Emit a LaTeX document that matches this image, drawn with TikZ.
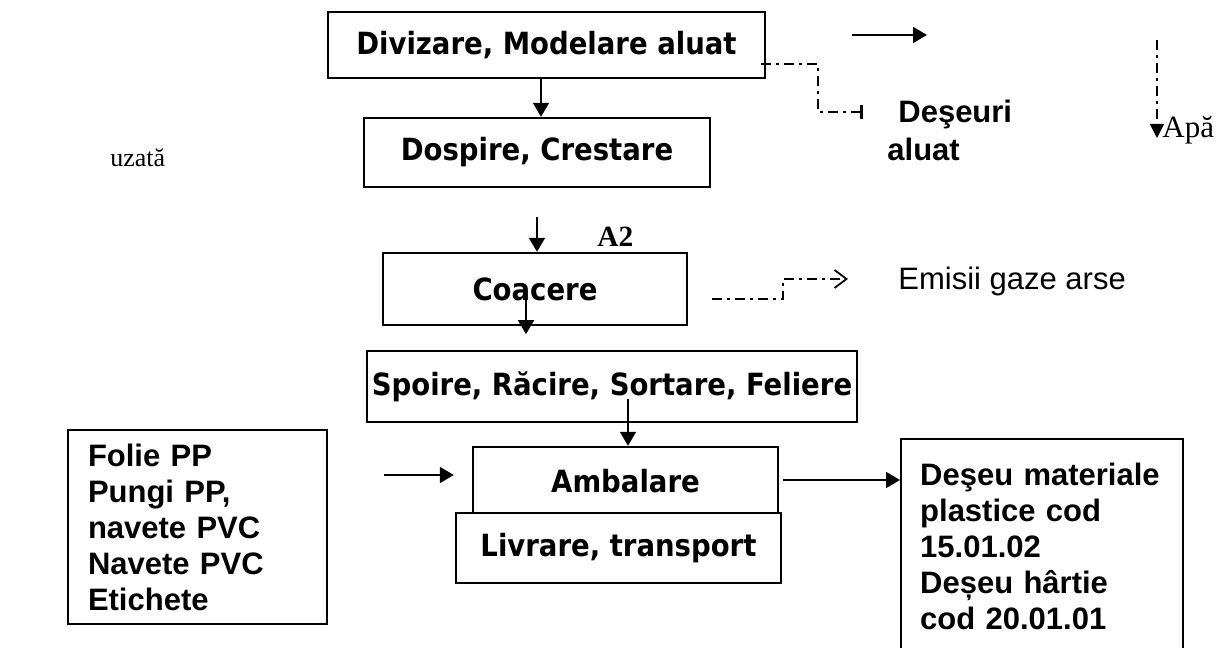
\documentclass[tikz,border=0pt]{standalone}
\usepackage{fontspec}
\setmainfont{Liberation Serif}
\newfontfamily\procfont{DejaVu Sans Condensed}
\newfontfamily\notefont{Liberation Sans}
\usetikzlibrary{calc}
\usetikzlibrary{arrows.meta}

\tikzset{
  procbox/.style={draw, line width=1.2pt, inner sep=0pt,
    font=\procfont\bfseries\fontsize{15.3}{18}\selectfont},
  listbox/.style={draw, line width=1.2pt, align=left, inner xsep=10pt,
    font=\notefont\bfseries\fontsize{15.5}{18}\selectfont},
  flow/.style={line width=0.9pt, -{Triangle[length=7pt,width=8pt]}},
  waste/.style={line width=0.9pt, dash pattern=on 5pt off 2.5pt on 1.5pt off 2.5pt},
}

\begin{document}
\begin{tikzpicture}[x=0.5pt, y=0.5pt]
  \useasboundingbox (0,0) rectangle (1223,648);

  % process steps
  \node[procbox, minimum width=218.5pt, minimum height=33pt] (div) at (546.5,603) {Divizare, Modelare aluat};
  \node[procbox, minimum width=173pt, minimum height=34.5pt] (dosp) at (537,495.5) {Dospire, Crestare};
  \node[procbox, minimum width=152pt, minimum height=36pt] (coac) at (535,359) {Coacere};
  \node[procbox, minimum width=245pt, minimum height=35.5pt] (spoi) at (612,261.5) {Spoire, Răcire, Sortare, Feliere};
  \node[procbox, minimum width=152.5pt, minimum height=34pt] (amb) at (625.5,167) {Ambalare};
  \node[procbox, fill=white, minimum width=162.5pt, minimum height=35pt] (livr) at (618.5,100) {Livrare, transport};

  % inputs and outputs
  \node[listbox, text width=109.5pt, minimum height=97pt] (mat) at (197.5,121)
    {Folie PP\\Pungi PP,\\navete PVC\\Navete PVC\\Etichete};
  \node[listbox, text width=122pt, inner xsep=9.5pt, minimum height=107pt, anchor=north west] (deseu) at (900,210)
    {Deşeu materiale\\plastice cod\\15.01.02\\Deșeu hârtie\\cod 20.01.01};

  \node[anchor=north west, inner sep=0pt, align=left,
    font=\notefont\bfseries\fontsize{15.5}{19}\selectfont] (dal) at (887,548) {\hspace*{5.5pt}Deşeuri\\aluat};
  \node[anchor=base west, inner sep=0pt, font=\notefont\fontsize{15.5}{18}\selectfont] (emis) at (898,358) {Emisii gaze arse};
  \node[anchor=base west, inner sep=0pt, font=\fontsize{15.5}{18}\selectfont] (apa) at (1162,510) {Apă};
  \node[anchor=base west, inner sep=0pt, font=\fontsize{13}{16}\selectfont] (uzata) at (110,481) {uzată};
  \node[anchor=base west, inner sep=0pt, font=\bfseries\fontsize{14.7}{18}\selectfont] (a2) at (597,401) {A2};

  % main flow
  \coordinate (d1) at ($(div.south)+(-5.5,0)$);
  \draw[flow] (d1) -- (d1 |- dosp.north);
  \draw[flow] ($(coac.north)+(2,35)$) -- ($(coac.north)+(2,0)$);
  \draw[flow] ($(coac.center)+(-9,0)$) -- ($(coac.south)+(-9,-8)$);
  \draw[flow] ($(amb.north)+(2.5,47)$) -- ($(amb.north)+(2.5,0)$);
  \draw[flow] ($(amb.west)+(-88,6)$) -- ($(amb.west)+(-18,6)$);
  \coordinate (ae) at ($(amb.east)+(4,1)$);
  \draw[flow] (ae) -- (ae -| deseu.west);

  % waste streams
  \coordinate (dk) at (818,536);
  \coordinate (dend) at (863,536);
  \draw[waste, -{Bar[width=7pt, line width=1.6pt]}] ($(div.south east)+(-5,15)$) -| (dk) -- (dend);
  \coordinate (em1) at (712,349);
  \coordinate (em2) at (848,369);
  \draw[waste, -{Straight Barb[length=6pt, width=9pt, line width=0.9pt]}] (em1) -- ++(71,0) |- (em2);
  \coordinate (apatop) at (1157,608);
  \draw[waste, -{Triangle[length=7pt, width=7pt]}] (apatop) -- (apatop |- apa.base);
  \coordinate (w1) at (852,613);
  \coordinate (w2) at (927,613);
  \draw[flow] (w1) -- (w2);
\end{tikzpicture}
\end{document}
